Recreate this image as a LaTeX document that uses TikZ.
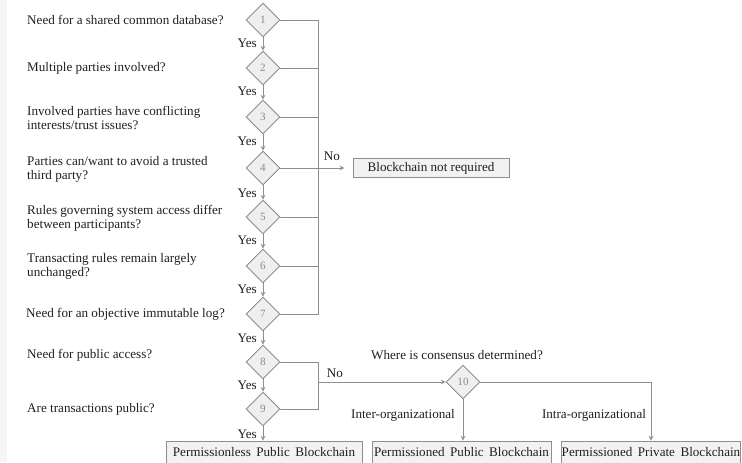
\documentclass[tikz,border=0pt]{standalone}
\usepackage{fontspec}
\setmainfont{Liberation Serif}
\usetikzlibrary{shapes.geometric,arrows}
\definecolor{linegray}{HTML}{8E8E8E}
\definecolor{diafill}{HTML}{EFEFEF}
\definecolor{boxfill}{HTML}{F2F2F2}
\definecolor{numgray}{HTML}{8A8A8A}
\definecolor{txt}{HTML}{1E1E1E}
\begin{document}
\begin{tikzpicture}[>=stealth, x=0.03cm, y=-0.03cm,
  font=\fontsize{11.2}{12}\selectfont, text=txt,
  dia/.style={diamond, draw=linegray, fill=diafill, text=numgray, thick,
    minimum width=1.02cm, minimum height=1.02cm, inner sep=0pt,
    font=\fontsize{9.5}{10}\selectfont},
  quest/.style={anchor=west, align=left, inner sep=0pt},
  yes/.style={anchor=east, inner sep=0pt},
  result/.style={draw=linegray, fill=boxfill, thick, inner sep=0pt},
  conn/.style={draw=linegray, thick}]
\useasboundingbox (0,0) rectangle (742,462);
\fill[gray!8](0,0) rectangle (7,462);
% questions
\node[quest] (q1) at (27,20) {Need for a shared common database?};
\node[quest] (q2) at (27,68) {Multiple parties involved?};
\node[quest] (q3) at (27,118) {Involved parties have conflicting\\interests/trust issues?};
\node[quest] (q4) at (27,169) {Parties can/want to avoid a trusted\\third party?};
\node[quest] (q5) at (27,218) {Rules governing system access differ\\between participants?};
\node[quest] (q6) at (27,266) {Transacting rules remain largely\\unchanged?};
\node[quest] (q7) at (26,314) {Need for an objective immutable log?};
\node[quest] (q8) at (27,355) {Need for public access?};
\node[quest] (q9) at (27,409) {Are transactions public?};
% decisions
\node[dia] (d1) at (263,20) {1};
\node[dia] (d2) at (263,68) {2};
\node[dia] (d3) at (263,117) {3};
\node[dia] (d4) at (263,168) {4};
\node[dia] (d5) at (263,217) {5};
\node[dia] (d6) at (263,266) {6};
\node[dia] (d7) at (263,314) {7};
\node[dia] (d8) at (263,362) {8};
\node[dia] (d9) at (263,409) {9};
\node[dia] (d10) at (463,382) {10};
% outcomes
\node[result, minimum width=4.68cm, minimum height=0.57cm] (nr) at (431,168) {Blockchain not required};
\node[result, minimum width=5.88cm, minimum height=0.69cm] (pl) at (264,452.5) {Permissionless\, Public\, Blockchain};
\node[result, minimum width=5.37cm, minimum height=0.69cm] (pp) at (461.5,452.5) {Permissioned\, Public\, Blockchain};
\node[result, minimum width=5.28cm, minimum height=0.69cm] (pv) at (651,452.5) {Permissioned\, Private\, Blockchain};
% yes path
\draw[conn,->](d1)--(d2);
\draw[conn,->](d2)--(d3);
\draw[conn,->](d3)--(d4);
\draw[conn,->](d4)--(d5);
\draw[conn,->](d5)--(d6);
\draw[conn,->](d6)--(d7);
\draw[conn,->](d7)--(d8);
\draw[conn,->](d8)--(d9);
\draw[conn,->](d9.south)--(d9.south |- pl.north);
\node[yes] at (257,43) {Yes};
\node[yes] at (257,91) {Yes};
\node[yes] at (257,141) {Yes};
\node[yes] at (257,193) {Yes};
\node[yes] at (257,240) {Yes};
\node[yes] at (257,289) {Yes};
\node[yes] at (257,338) {Yes};
\node[yes] at (257,385) {Yes};
\node[yes] at (257,434) {Yes};
% no path
\coordinate (r7) at (318,314);
\coordinate (r9) at (318,409);
\draw[conn](d1.east)-|(r7)--(d7.east);
\draw[conn](d2.east)--(d2.east -| r7);
\draw[conn](d3.east)--(d3.east -| r7);
\draw[conn](d5.east)--(d5.east -| r7);
\draw[conn](d6.east)--(d6.east -| r7);
\draw[conn,->,shorten >=7pt](d4.east)--(nr.west);
\node at (332,156){No};
\draw[conn](d8.east)-|(r9)--(d9.east);
\draw[conn,->](d10.west -| r9)--(d10.west);
\node at (335,373){No};
\node at (457,355){Where is consensus determined?};
\draw[conn,->](d10.south)--(d10.south |- pp.north);
\draw[conn,->](d10.east)-|(pv.north);
\node at (403,415){Inter-organizational};
\node at (594,415){Intra-organizational};
\end{tikzpicture}
\end{document}
